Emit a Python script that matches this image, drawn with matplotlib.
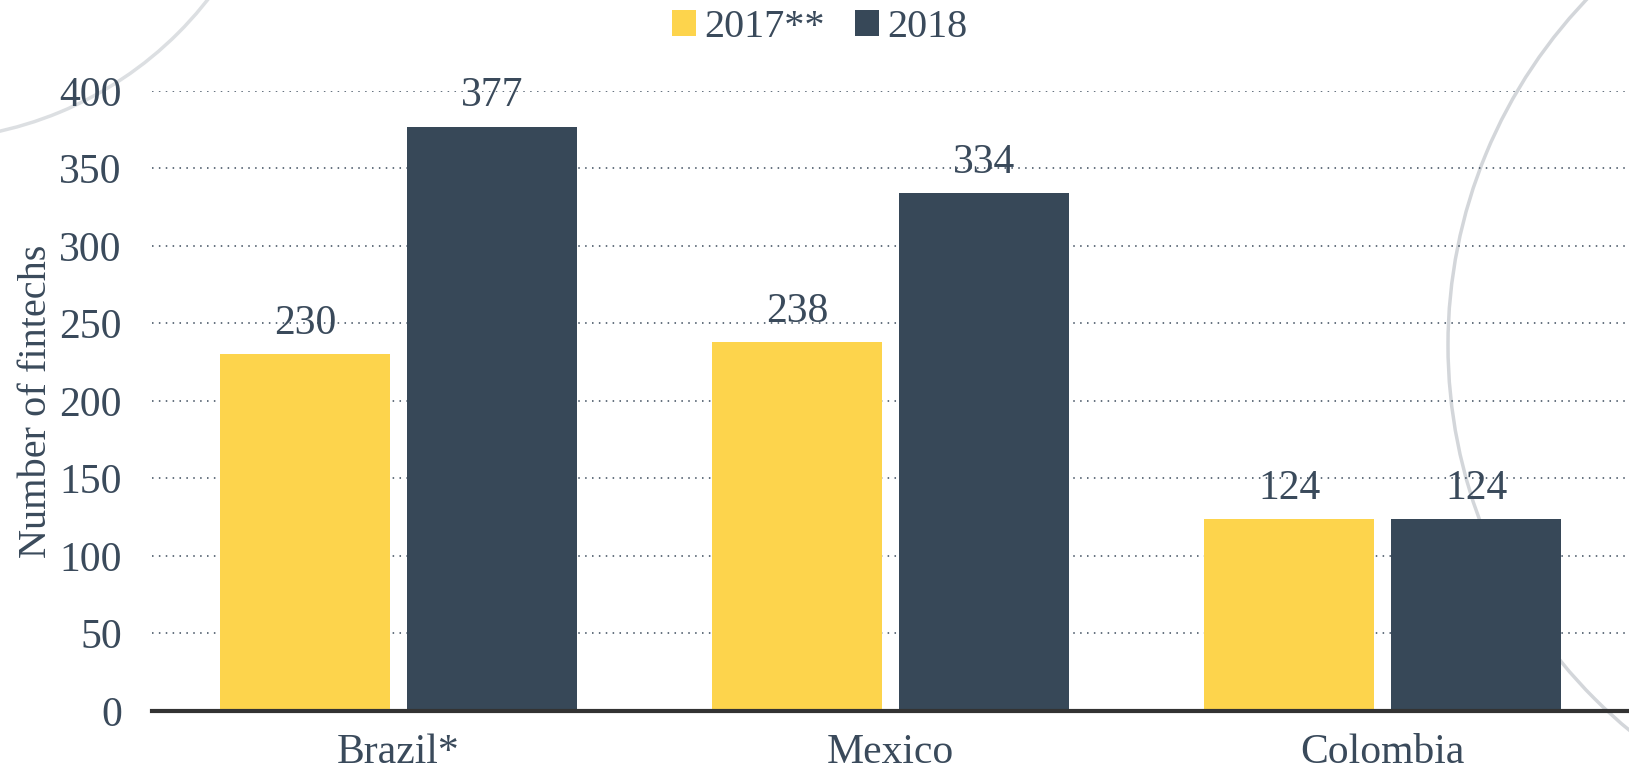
import matplotlib

matplotlib.use("Agg")
import matplotlib.pyplot as plt
import numpy as np
from matplotlib.patches import Arc

# --- data ------------------------------------------------------------------ #
countries = ["Brazil*", "Mexico", "Colombia"]
series_names = ["2017**", "2018"]
values_2017 = [230, 238, 124]
values_2018 = [377, 334, 124]
yticks = [0, 50, 100, 150, 200, 250, 300, 350, 400]

YELLOW = "#FDD44C"
DARK = "#374858"
TEXT = "#3A4A5B"

plt.rcParams["font.family"] = ["Liberation Serif", "DejaVu Serif"]

fig = plt.figure(figsize=(16.29, 7.7), dpi=100)
ax = fig.add_axes([0.0935, 0.0766, 0.9065, 0.8054])

# faint decorative arcs in the background (pixel coordinates)
bg = fig.add_axes([0, 0, 1, 1], zorder=-1)
bg.set_xlim(0, 1629)
bg.set_ylim(770, 0)
bg.axis("off")
bg.add_patch(Arc((1948, 345), 1000, 1000, theta1=0, theta2=360,
                 color="#d3d6da", lw=2.5))
bg.add_patch(Arc((-80, -225), 730, 730, theta1=0, theta2=360,
                 color="#dcdfe2", lw=2.5))
ax.set_facecolor("none")

x = np.arange(len(countries))
w = 0.345
off = 0.19
b1 = ax.bar(x - off, values_2017, w, color=YELLOW, label=series_names[0], zorder=2)
b2 = ax.bar(x + off, values_2018, w, color=DARK, label=series_names[1], zorder=2)

for bars in (b1, b2):
    for rect in bars:
        h = rect.get_height()
        ax.annotate(f"{h:.0f}", (rect.get_x() + rect.get_width() / 2, h),
                    xytext=(0, 8), textcoords="offset points",
                    ha="center", va="bottom", fontsize=30, color=TEXT, zorder=3)

ax.set_xlim(-0.5, 2.5)
ax.set_ylim(0, 400)
ax.set_yticks(yticks)
ax.set_xticks(x)
ax.set_xticklabels(countries)
ax.tick_params(axis="both", length=0, labelsize=30, labelcolor=TEXT)
ax.tick_params(axis="y", pad=22)
ax.tick_params(axis="x", pad=16)
ax.yaxis.grid(True, linestyle=(0, (1, 3.5)), color="#3a4a5b", lw=1.1, zorder=0)
ax.set_axisbelow(True)
for s in ("top", "right", "left"):
    ax.spines[s].set_visible(False)
ax.spines["bottom"].set_color("#333333")
ax.spines["bottom"].set_linewidth(3)
ax.spines["bottom"].set_zorder(4)

ax.set_ylabel("Number of fintechs", fontsize=29, color=TEXT)
ax.yaxis.set_label_coords(-0.066, 0.5)

leg = fig.legend(loc="upper center", bbox_to_anchor=(0.503, 1.035), ncol=2,
                 frameon=False, fontsize=29, handlelength=0.6, handleheight=0.6,
                 handletextpad=0.2, columnspacing=0.75)
for t in leg.get_texts():
    t.set_color(TEXT)

fig.savefig("out.png", dpi=100, facecolor="white")
